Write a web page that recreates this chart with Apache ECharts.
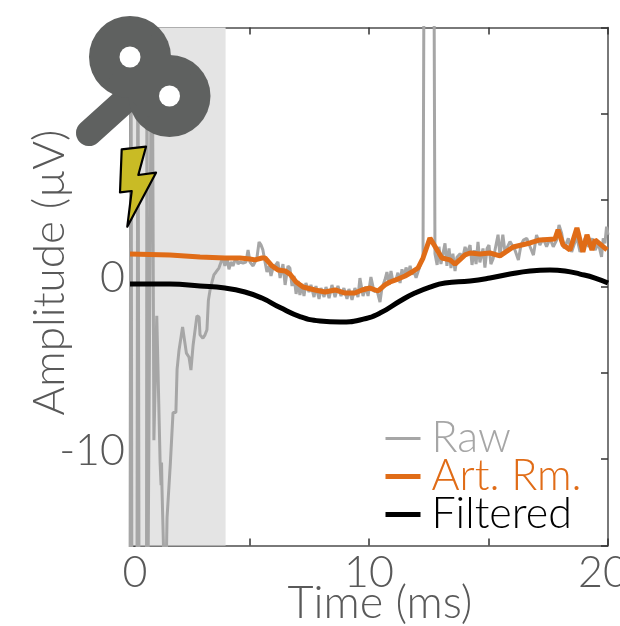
<!DOCTYPE html>
<html><head><meta charset="utf-8">
<style>html,body{margin:0;padding:0;background:#fff;overflow:hidden}#c{width:620px;height:626px}</style>
<script src="https://cdn.jsdelivr.net/npm/echarts@6/dist/echarts.min.js"></script>
</head><body><div id="c"></div>
<script>
const xTicks = [0, 10, 20];
const yTicks = [0, -10];
const legendNames = ['Raw', 'Art. Rm.', 'Filtered'];
const shadeEnd = 4;

const rawTime = [0,.04,.08,.29,.33,.38,.69,.71,.74,.92,1.0,1.12,1.26,1.3,1.32,1.34,1.4,1.49,1.53,1.55,1.61,1.69,1.74,1.8,1.92,1.97,2.05,2.2,2.26,2.36,2.47,2.55,2.64,2.8,2.89,2.93,3.05,3.14,3.22,3.28,3.35,3.43,3.51,3.6,3.72,3.81,3.89,3.97,4.06,4.14,4.23,4.31,4.44,4.52,4.6,4.73,4.85,4.94,5.02,5.15,5.23,5.31,5.4,5.48,5.56,5.65,5.73,5.82,5.9,5.98,6.07,6.19,6.28,6.4,6.49,6.61,6.69,6.78,6.86,6.95,7.03,7.11,7.2,7.28,7.36,7.49,7.57,7.7,7.78,7.91,7.99,8.12,8.2,8.33,8.45,8.58,8.7,8.83,8.95,9.08,9.16,9.29,9.41,9.54,9.62,9.75,9.87,9.96,10.08,10.21,10.33,10.46,10.54,10.67,10.75,10.84,10.92,11,11.13,11.21,11.3,11.38,11.46,11.55,11.63,11.72,11.8,11.88,11.97,12.18,12.26,12.3,12.72,12.76,12.85,12.93,13.01,13.18,13.26,13.35,13.43,13.51,13.6,13.68,13.81,13.93,14.02,14.1,14.23,14.31,14.4,14.48,14.56,14.64,14.77,14.85,14.94,15.02,15.1,15.19,15.27,15.4,15.48,15.6,15.69,15.9,16.11,16.25,16.36,16.46,16.6,16.74,16.88,17.01,17.15,17.29,17.43,17.57,17.71,17.85,17.95,18.06,18.17,18.34,18.48,18.69,18.83,19.04,19.18,19.34,19.46,19.6,19.73,19.8,19.87,19.94,20];
const rawValues = [-20,20,-20,-20,20,-20,-20,20,-20,20,-8.9,-1.7,-10.2,-11.5,-10.2,-11.8,-15,-16,-15,-13.4,-13.4,-10.2,-10.2,-7.3,-7.3,-4.8,-3.7,-2.35,-2.35,-3.86,-4.1,-4.84,-3.4,-1.7,-1.77,-2.8,-3,-2.8,-2.5,-.8,-.2,.26,.67,.84,1.07,1.42,1.65,1.19,1.65,1,1.42,1.19,1.71,1.3,1.42,1.36,1.42,2.12,1.42,1.19,1.42,1.65,2.58,2.41,2.12,1.42,.84,1.19,.61,1.07,1.19,1.42,.49,1.3,.09,1.19,1.07,.03,.61,-.43,.32,-.49,.14,-.55,.2,-.32,.09,-.61,.03,-.72,-.09,-.61,-.03,-.67,.09,-.61,.03,-.55,-.09,-.72,-.14,-.78,-.09,-.61,.49,-.55,0,-.55,.55,-.3,-.2,-.9,-.1,.4,.84,.1,.9,.3,.4,.8,.2,1,.5,1.1,.7,1.2,.7,.9,.5,1.4,1.6,18,18,1.9,1.25,2.3,1.3,2.5,1.2,2.2,1.07,1.9,.9,1.7,1.9,1.7,2.3,1.9,2.4,1.25,2.1,1.3,2.58,1.4,2.2,1.1,2.2,2.4,1.3,1.6,2.1,3,1.8,3,2,2.6,2.1,1.53,2.4,2.69,2.79,2.3,1.82,2.98,2.4,2.79,2.3,2.79,2.3,2.69,3.56,3.08,2.2,2.79,2,2.88,2,2.79,2.3,2.79,2.11,2.5,1.72,2.79,2.5,3.46,3];

const artTime = [0,1.67,2.93,3.97,4.6,5.02,5.23,5.52,5.65,5.94,6.19,6.49,6.69,6.95,7.24,7.74,8.16,8.58,9,9.41,9.71,10.04,10.38,10.67,10.88,11.21,11.51,11.8,12.05,12.26,12.55,12.8,13.05,13.39,13.6,14.02,14.23,14.64,15.06,15.48,16.03,16.74,17.15,17.78,17.91,18.12,18.41,18.7,18.95,19.12,19.33,19.46,19.96];
const artValues = [1.88,1.83,1.71,1.65,1.65,1.59,1.54,1.65,1.65,1.19,.96,.9,.72,.26,-.03,-.2,-.32,-.2,-.38,-.38,-.2,-.09,-.26,.09,.26,.43,.61,.84,1.07,1.65,2.81,2.23,1.65,1.54,1.3,1.83,1.94,1.88,1.94,1.77,2.29,2.52,2.7,2.75,3.28,2.41,2.12,3.39,2,2.99,2.12,2.7,2.12];

const filtTime = [0,1.67,2.93,3.97,4.81,5.52,6.28,7.11,7.95,8.79,9.62,10.46,11.3,11.92,12.55,13.18,14.23,15.06,15.9,16.74,17.57,18.2,18.83,19.46,20];
const filtValues = [.14,.14,.03,-.09,-.32,-.67,-1.22,-1.74,-2,-2.06,-1.94,-1.54,-.84,-.38,-.03,.2,.32,.49,.72,.9,.96,.9,.72,.49,.2];

const zip = (a, b) => a.map((t, i) => [t, b[i]]);
const FONT = 'Lato';
const GREY = '#595959';
const ICON = '#5f6160';
const SIZE = 43;

const frame = {onZero: false, lineStyle: {color: '#4d4d4d', width: 1.5}};
const ticks = {show: true, inside: true, length: 7, lineStyle: {color: '#333', width: 1.5}};
const hiddenMarker = {opacity: 0};
const legendText = c => ({color: c, padding: [0, 0, 0, 6]});

const chart = echarts.init(document.getElementById('c'), null, {renderer: 'canvas'});
chart.setOption({
  animation: false,
  backgroundColor: '#fff',
  grid: {left: 130, top: 27.5, width: 478, height: 518, outerBoundsMode: 'none'},
  legend: {
    orient: 'vertical', left: 383, top: 417, padding: 0, itemWidth: 35, itemHeight: 20, itemGap: -5,
    selectedMode: false, itemStyle: hiddenMarker,
    textStyle: {fontFamily: FONT, fontWeight: 300, fontSize: SIZE},
    data: [
      {name: legendNames[0], itemStyle: hiddenMarker, lineStyle: {width: 3}, textStyle: legendText('#a6a6a6')},
      {name: legendNames[1], itemStyle: hiddenMarker, lineStyle: {width: 5}, textStyle: legendText('#e06c17')},
      {name: legendNames[2], itemStyle: hiddenMarker, lineStyle: {width: 5}, textStyle: legendText('#000')}
    ]
  },
  xAxis: [{
    type: 'value', min: 0, max: 20, interval: 5, position: 'bottom',
    axisLine: frame, axisTick: ticks, splitLine: {show: false},
    axisLabel: {
      margin: 6, color: GREY, fontFamily: FONT, fontWeight: 300, fontSize: SIZE,
      showMaxLabel: true, hideOverlap: false,
      formatter: v => !xTicks.includes(v) ? '' : v === 0 ? '{a|0}' : v === 20 ? '{b|20}' : '' + v,
      rich: {
        a: {padding: [0, 0, 0, 10], color: GREY, fontFamily: FONT, fontWeight: 300, fontSize: SIZE},
        b: {padding: [0, 10, 0, 0], color: GREY, fontFamily: FONT, fontWeight: 300, fontSize: SIZE}
      }
    },
    name: 'Time (ms)', nameLocation: 'middle', nameGap: 35, nameMoveOverlap: false,
    nameTextStyle: {color: GREY, fontFamily: FONT, fontWeight: 300, fontSize: 45, padding: [0, 0, 0, 22]}
  }, {
    type: 'value', min: 0, max: 20, interval: 5, position: 'top',
    axisLine: frame, axisTick: ticks, axisLabel: {show: false}, splitLine: {show: false}
  }],
  yAxis: [{
    type: 'value', min: -15, max: 15, interval: 5, position: 'left',
    axisLine: frame, axisTick: ticks, splitLine: {show: false},
    axisLabel: {
      margin: 5, color: GREY, fontFamily: FONT, fontWeight: 300, fontSize: SIZE,
      verticalAlign: 'bottom', lineHeight: 16,
      formatter: v => yTicks.includes(v) ? '' + v : ''
    },
    name: 'Amplitude (µV)', nameLocation: 'middle', nameGap: 58, nameMoveOverlap: false,
    nameTextStyle: {color: GREY, fontFamily: FONT, fontWeight: 300, fontSize: 44, padding: [0, 0, 0, 28]}
  }, {
    type: 'value', min: -15, max: 15, interval: 5, position: 'right',
    axisLine: frame, axisTick: ticks, axisLabel: {show: false}, splitLine: {show: false}
  }],
  series: [
    {
      name: legendNames[0], type: 'line', data: zip(rawTime, rawValues), symbol: 'none', clip: true,
      lineStyle: {color: '#a6a6a6', width: 3}, itemStyle: {color: '#a6a6a6'},
      markArea: {silent: true, itemStyle: {color: '#e4e4e4'}, data: [[{xAxis: 0}, {xAxis: shadeEnd}]]}
    },
    {
      name: legendNames[1], type: 'line', data: zip(artTime, artValues), symbol: 'none', clip: true,
      lineStyle: {color: '#e06c17', width: 5}, itemStyle: {color: '#e06c17'}
    },
    {
      name: legendNames[2], type: 'line', data: zip(filtTime, filtValues), symbol: 'none', clip: true, smooth: true,
      lineStyle: {color: '#000', width: 5}, itemStyle: {color: '#000'}
    }
  ],
  graphic: {elements: [
    {type: 'line', z: 100, shape: {x1: 130, y1: 96, x2: 89, y2: 133}, style: {stroke: ICON, lineWidth: 26, lineCap: 'round'}},
    {type: 'circle', z: 100, shape: {cx: 130, cy: 57, r: 41}, style: {fill: ICON}},
    {type: 'circle', z: 100, shape: {cx: 169.5, cy: 96, r: 41}, style: {fill: ICON}},
    {type: 'line', z: 100, shape: {x1: 130, y1: 57, x2: 169.5, y2: 96}, style: {stroke: ICON, lineWidth: 60}},
    {type: 'circle', z: 101, shape: {cx: 130, cy: 57, r: 10.5}, style: {fill: '#fff'}},
    {type: 'circle', z: 101, shape: {cx: 169.5, cy: 96, r: 10.5}, style: {fill: '#fff'}},
    {type: 'polygon', z: 101, shape: {points: [[121.7,149.3],[146,146.7],[138.3,175],[156,172.7],[127.3,226.7],[131.7,191],[120,192.3]]},
      style: {fill: '#c9bb25', stroke: '#000', lineWidth: 2.2, lineJoin: 'round'}}
  ]}
});
</script></body></html>
